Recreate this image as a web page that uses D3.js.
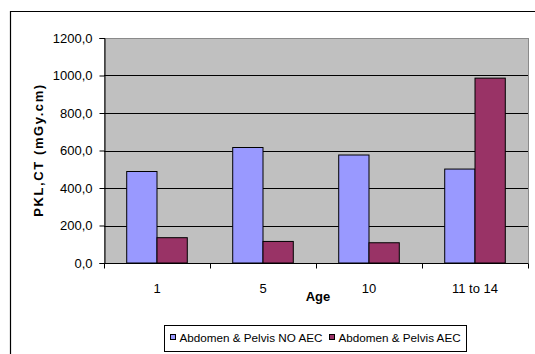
<!DOCTYPE html>
<html>
<head>
<meta charset="utf-8">
<script src="https://cdn.jsdelivr.net/npm/d3@7"></script>
<style>
  html, body { margin: 0; padding: 0; background: #fff; }
  svg { display: block; font-family: "Liberation Sans", Arial, sans-serif; }
</style>
</head>
<body>
<svg id="chart" width="535" height="354"></svg>
<script>
// Age groups and dose values (mGy.cm)
const categories = ["1", "5", "10", "11 to 14"];
const seriesNames = ["Abdomen & Pelvis NO AEC", "Abdomen & Pelvis AEC"];
const noAec = [488, 616, 576, 501];
const aec = [135, 115, 108, 986];
const yTicks = [0, 200, 400, 600, 800, 1000, 1200];
const colors = ["#9999FF", "#993366"];

const svg = d3.select("#chart");

// Chart frame
svg.append("path")
  .attr("d", "M10.5,360 L10.5,11.5 L540,11.5")
  .attr("fill", "none").attr("stroke", "#000").attr("stroke-width", 1.2);

const plot = { left: 104, top: 38, right: 528, bottom: 263 };

const x = d3.scaleBand().domain(categories).range([plot.left, plot.right]);
const y = d3.scaleLinear().domain([0, 1200]).range([plot.bottom, plot.top]);

// Plot area background
svg.append("rect")
  .attr("x", plot.left + 0.5).attr("y", plot.top + 0.5)
  .attr("width", plot.right - plot.left).attr("height", plot.bottom - plot.top)
  .attr("fill", "#C0C0C0").attr("stroke", "#8a8a8a").attr("stroke-width", 1);

// Gridlines
svg.append("g").selectAll("line")
  .data(yTicks.filter(d => d > 0 && d < 1200))
  .join("line")
  .attr("x1", plot.left).attr("x2", plot.right)
  .attr("y1", d => Math.round(y(d)) + 0.5).attr("y2", d => Math.round(y(d)) + 0.5)
  .attr("stroke", "#000").attr("stroke-width", 1);

// Bars: gap width 150% of bar width
const barW = x.bandwidth() / 3.5;
const rows = categories.map((c, i) => ({ c, v: [noAec[i], aec[i]] }));
const groups = svg.append("g").selectAll("g").data(rows).join("g");
groups.selectAll("rect")
  .data(d => d.v.map((v, k) => ({ c: d.c, v, k })))
  .join("rect")
  .attr("x", d => x(d.c) + x.bandwidth() / 2 - barW + d.k * barW)
  .attr("y", d => y(d.v))
  .attr("width", barW)
  .attr("height", d => y(0) - y(d.v))
  .attr("fill", d => colors[d.k])
  .attr("stroke", "#000").attr("stroke-width", 1);

// Y axis
const yAxis = svg.append("g")
  .attr("transform", `translate(${plot.left + 0.5},0)`)
  .call(d3.axisLeft(y).tickValues(yTicks).tickSize(5).tickPadding(7)
    .tickFormat(d => d3.format(".1f")(d).replace(".", ",")));
yAxis.select(".domain").attr("stroke", "#000");
yAxis.selectAll("text").attr("font-size", 13).attr("fill", "#000")
  .attr("font-family", "Liberation Sans, Arial, sans-serif");

// X axis with ticks at category boundaries
const xg = svg.append("g").attr("transform", `translate(0,${plot.bottom + 0.5})`);
xg.append("line").attr("x1", plot.left).attr("x2", plot.right).attr("stroke", "#000");
const bounds = categories.map(c => x(c)).concat([plot.right]);
xg.selectAll("line.tk").data(bounds).join("line").attr("class", "tk")
  .attr("x1", d => Math.round(d) + 0.5).attr("x2", d => Math.round(d) + 0.5)
  .attr("y1", 0).attr("y2", 5).attr("stroke", "#000");
xg.selectAll("text").data(categories).join("text")
  .attr("x", d => x(d) + x.bandwidth() / 2)
  .attr("y", 29.5)
  .attr("text-anchor", "middle")
  .attr("font-size", 13)
  .text(d => d);

// Axis titles
svg.append("text")
  .attr("x", 318).attr("y", 300.5)
  .attr("text-anchor", "middle").attr("font-weight", "bold").attr("font-size", 13)
  .text("Age");
svg.append("text")
  .attr("transform", "translate(42.5,150) rotate(-90)")
  .attr("text-anchor", "middle").attr("font-weight", "bold").attr("font-size", 13)
  .attr("letter-spacing", 1.6)
  .text("PKL,CT (mGy.cm)");

// Legend
const lg = svg.append("g");
lg.append("rect").attr("x", 164.5).attr("y", 325.5).attr("width", 302).attr("height", 26)
  .attr("fill", "#fff").attr("stroke", "#000");
const lx = [170, 329];
seriesNames.forEach((n, k) => {
  lg.append("rect").attr("x", lx[k] + 0.5).attr("y", 334.5).attr("width", 5).attr("height", 5)
    .attr("fill", colors[k]).attr("stroke", "#000").attr("stroke-width", 1);
  lg.append("text").attr("x", lx[k] + 9.5).attr("y", 342)
    .attr("font-size", 11.7).text(n);
});
</script>
</body>
</html>
